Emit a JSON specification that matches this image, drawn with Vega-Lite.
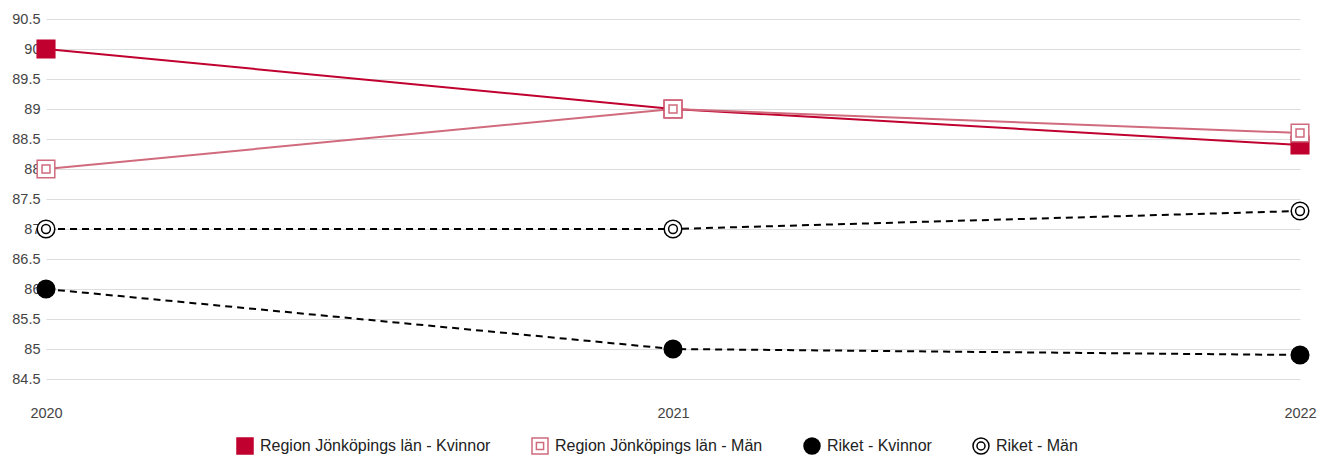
{
  "$schema": "https://vega.github.io/schema/vega-lite/v6.json",
  "width": 1254,
  "height": 378,
  "autosize": {"type": "none"},
  "padding": {"left": 46, "top": 19, "right": 18, "bottom": 59},
  "background": "white",
  "config": {
    "font": "Liberation Sans",
    "view": {"stroke": null}
  },
  "data": {
    "values": [
      {"year": "2020", "series": "Region Jönköpings län - Kvinnor", "value": 90},
      {"year": "2021", "series": "Region Jönköpings län - Kvinnor", "value": 89},
      {"year": "2022", "series": "Region Jönköpings län - Kvinnor", "value": 88.4},
      {"year": "2020", "series": "Region Jönköpings län - Män", "value": 88},
      {"year": "2021", "series": "Region Jönköpings län - Män", "value": 89},
      {"year": "2022", "series": "Region Jönköpings län - Män", "value": 88.6},
      {"year": "2020", "series": "Riket - Kvinnor", "value": 86},
      {"year": "2021", "series": "Riket - Kvinnor", "value": 85},
      {"year": "2022", "series": "Riket - Kvinnor", "value": 84.9},
      {"year": "2020", "series": "Riket - Män", "value": 87},
      {"year": "2021", "series": "Riket - Män", "value": 87},
      {"year": "2022", "series": "Riket - Män", "value": 87.3}
    ]
  },
  "encoding": {
    "x": {
      "field": "year",
      "type": "ordinal",
      "scale": {"type": "point", "padding": 0},
      "axis": {
        "title": null,
        "labelAngle": 0,
        "domain": false,
        "ticks": false,
        "grid": false,
        "labelFontSize": 14.5,
        "labelColor": "#444444",
        "labelPadding": 9
      }
    },
    "y": {
      "field": "value",
      "type": "quantitative",
      "scale": {"domain": [84.2, 90.5], "nice": false, "zero": false},
      "axis": {
        "title": null,
        "values": [84.5, 85, 85.5, 86, 86.5, 87, 87.5, 88, 88.5, 89, 89.5, 90, 90.5],
        "format": "~g",
        "domain": false,
        "ticks": false,
        "gridColor": "#dddddd",
        "labelFontSize": 14.5,
        "labelColor": "#444444",
        "labelPadding": 6
      }
    },
    "stroke": {
      "field": "series",
      "type": "nominal",
      "title": null,
      "scale": {
        "domain": ["Region Jönköpings län - Kvinnor", "Region Jönköpings län - Män", "Riket - Kvinnor", "Riket - Män"],
        "range": ["#c0002f", "#d06b7d", "#000000", "#000000"]
      }
    }
  },
  "layer": [
    {
      "transform": [{"filter": "indexof(datum.series, 'Region') === 0"}],
      "mark": {"type": "line", "strokeWidth": 2},
      "encoding": {
        "detail": {"field": "series", "type": "nominal"}
      }
    },
    {
      "transform": [{"filter": "indexof(datum.series, 'Riket') === 0"}],
      "mark": {"type": "line", "strokeWidth": 2, "strokeDash": [7, 5]},
      "encoding": {
        "detail": {"field": "series", "type": "nominal"}
      }
    },
    {
      "mark": {"type": "point", "filled": true, "size": 310, "strokeWidth": 1.5, "opacity": 1},
      "encoding": {
        "shape": {
          "field": "series",
          "type": "nominal",
          "title": null,
          "scale": {
            "domain": ["Region Jönköpings län - Kvinnor", "Region Jönköpings län - Män", "Riket - Kvinnor", "Riket - Män"],
            "range": [
              "square",
              "M-1,-1H1V1H-1Z M-0.45,-0.45H0.45V0.45H-0.45Z",
              "circle",
              "M1,0A1,1,0,1,1,-1,0A1,1,0,1,1,1,0Z M0.5,0A0.5,0.5,0,1,1,-0.5,0A0.5,0.5,0,1,1,0.5,0Z"
            ]
          },
          "legend": {
            "orient": "none",
            "legendX": 190,
            "legendY": 418,
            "direction": "horizontal",
            "title": null,
            "labelFontSize": 16,
            "labelColor": "#222222",
            "labelLimit": 400,
            "symbolSize": 256,
            "symbolStrokeWidth": 1.5,
            "columnPadding": 38,
            "labelOffset": 6
          }
        },
        "fill": {
          "field": "series",
          "type": "nominal",
          "title": null,
          "scale": {
            "domain": ["Region Jönköpings län - Kvinnor", "Region Jönköpings län - Män", "Riket - Kvinnor", "Riket - Män"],
            "range": ["#c0002f", "#ffffff", "#000000", "#ffffff"]
          }
        }
      }
    }
  ]
}
